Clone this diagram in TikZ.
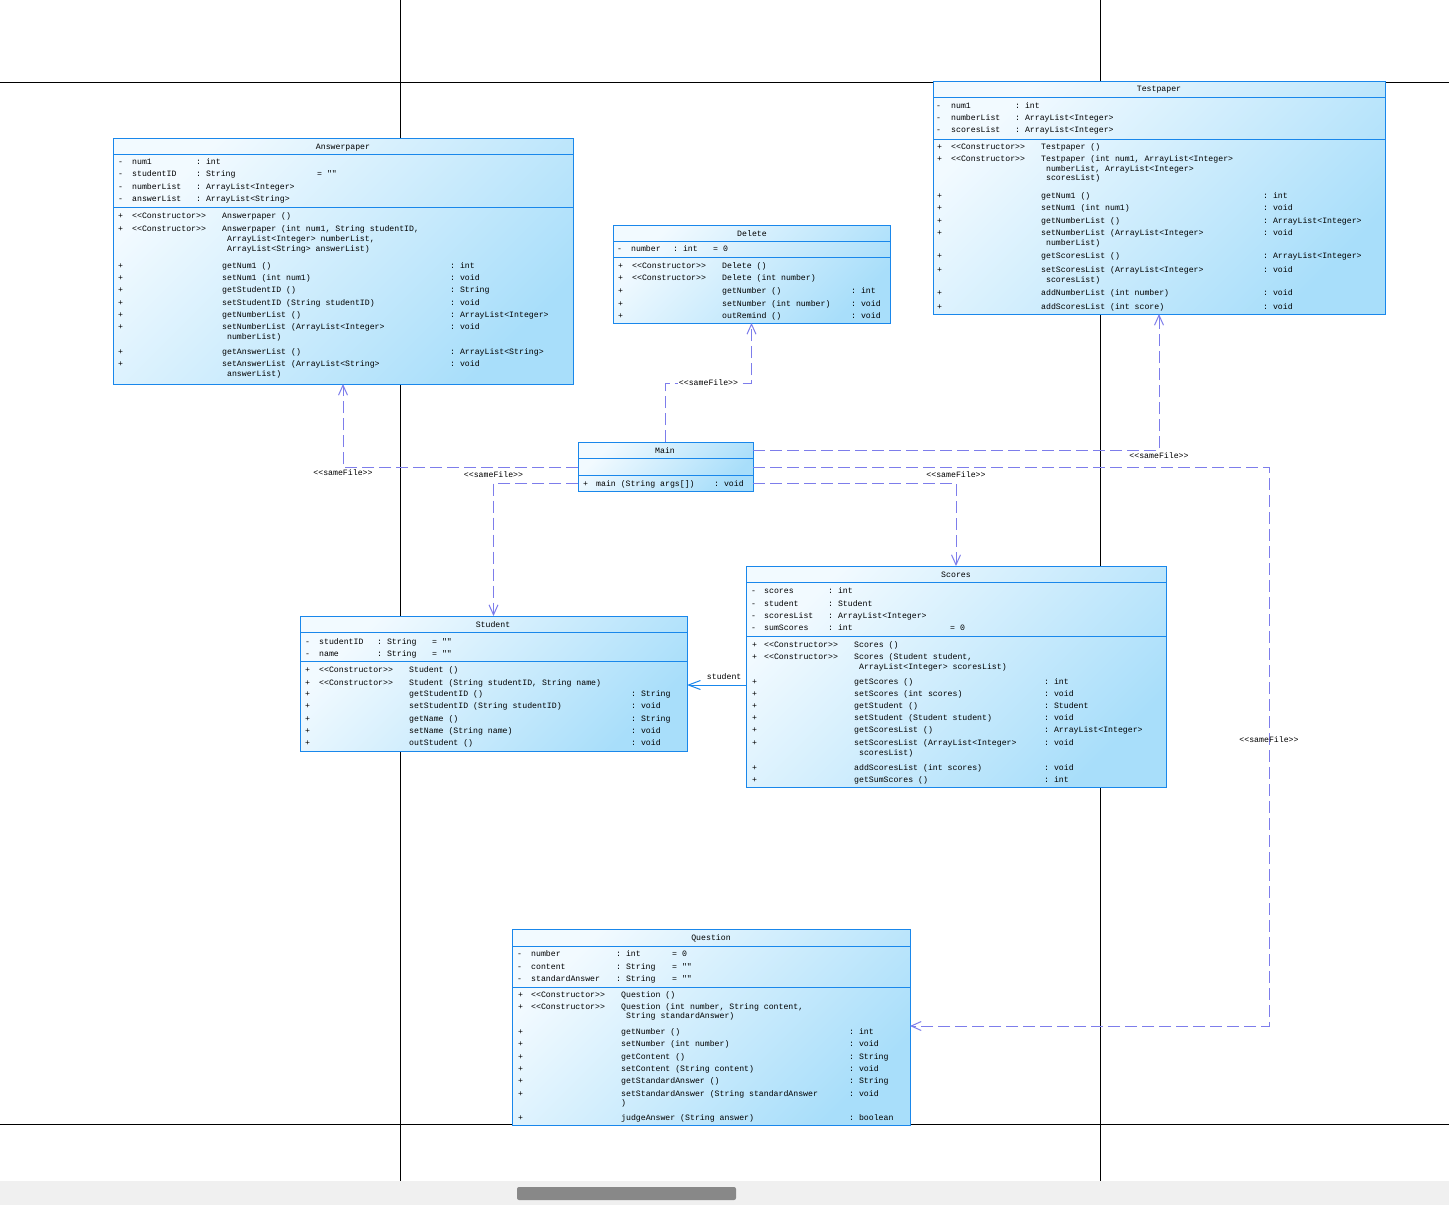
\documentclass[tikz,border=0pt]{standalone}
\usepackage{fontspec}
\setmonofont{Liberation Mono}
\usetikzlibrary{arrows.meta,calc}
\definecolor{umlblue}{RGB}{25,135,235}
\definecolor{umldep}{RGB}{125,125,235}
\definecolor{boxlight}{RGB}{242,250,255}
\definecolor{boxdark}{RGB}{168,222,250}
\definecolor{barbg}{RGB}{240,240,240}
\definecolor{barthumb}{RGB}{136,136,136}
\newcommand{\stereo}[1]{<{}<#1>{}>}

\begin{document}
\begin{tikzpicture}[x=1pt, y=-1pt,
    cls/.style={rectangle, draw=umlblue, line width=1pt, inner sep=0pt, outer sep=0pt,
                anchor=north west, top color=boxlight, bottom color=boxdark, shading angle=45},
    sep/.style={draw=umlblue, line width=1pt},
    txt/.style={anchor=base west, inner sep=0pt, yshift=-3pt,
                font=\ttfamily\fontsize{8.2pt}{10pt}\selectfont},
    ttl/.style={txt, anchor=base},
    lbl/.style={inner sep=1pt, text=black, font=\ttfamily\fontsize{8.2pt}{10pt}\selectfont},
    dep/.style={umldep, line width=1pt, dash pattern=on 12pt off 5pt,
                -{Straight Barb[length=10pt, width=9pt]}},
    assoc/.style={umlblue, line width=1pt, -{Straight Barb[length=12pt, width=9pt]}},
    grid/.style={black, line width=1pt}
  ]
  \useasboundingbox (0,0) rectangle (1449,1205);
  \fill[white] (0,0) rectangle (1449,1205);

  % page grid
  \draw[grid] (0,82) -- (1449,82);
  \draw[grid] (0,1124) -- (1449,1124);
  \draw[grid] (400,0) -- (400,1181);
  \draw[grid] (1100,0) -- (1100,1181);

  % Answerpaper
  \node[cls, minimum width=460pt, minimum height=246pt] (answer) at (113,138) {};
  \node[ttl] (answer-t) at (343,146) {Answerpaper};
  \draw[sep] (answer.west |- 0,154) -- (answer.east |- 0,154)
             (answer.west |- 0,207) -- (answer.east |- 0,207);
  \foreach \y/\nm/\typ/\val [count=\i] in {
      161/num1/{: int}/{},
      173/studentID/{: String}/{= ""},
      186/numberList/{: ArrayList<Integer>}/{},
      198/answerList/{: ArrayList<String>}/{}} {
    \node[txt] (answer-a\i) at (118,\y) {-};
    \node[txt] (answer-a\i-n) at (132,\y) {\nm};
    \node[txt] (answer-a\i-t) at (196,\y) {\typ};
    \node[txt] (answer-a\i-v) at (317,\y) {\val};
  }
  \foreach \y/\vis/\ster/\nm/\ret [count=\i] in {
      215/+/\stereo{Constructor}/{Answerpaper ()}/{},
      228/+/\stereo{Constructor}/{Answerpaper (int num1, String studentID,}/{},
      238/{}/{}/{\ ArrayList<Integer> numberList,}/{},
      248/{}/{}/{\ ArrayList<String> answerList)}/{},
      265/+/{}/{getNum1 ()}/{: int},
      277/+/{}/{setNum1 (int num1)}/{: void},
      289/+/{}/{getStudentID ()}/{: String},
      302/+/{}/{setStudentID (String studentID)}/{: void},
      314/+/{}/{getNumberList ()}/{: ArrayList<Integer>},
      326/+/{}/{setNumberList (ArrayList<Integer>}/{: void},
      336/{}/{}/{\ numberList)}/{},
      351/+/{}/{getAnswerList ()}/{: ArrayList<String>},
      363/+/{}/{setAnswerList (ArrayList<String>}/{: void},
      373/{}/{}/{\ answerList)}/{}} {
    \node[txt] (answer-m\i) at (118,\y) {\vis};
    \node[txt] (answer-m\i-s) at (132,\y) {\ster};
    \node[txt] (answer-m\i-n) at (222,\y) {\nm};
    \node[txt] (answer-m\i-r) at (450,\y) {\ret};
  }

  % Testpaper
  \node[cls, minimum width=452pt, minimum height=233pt] (test) at (933,81) {};
  \node[ttl] (test-t) at (1159,88) {Testpaper};
  \draw[sep] (test.west |- 0,97) -- (test.east |- 0,97)
             (test.west |- 0,139) -- (test.east |- 0,139);
  \foreach \y/\nm/\typ [count=\i] in {
      105/num1/{: int},
      117/numberList/{: ArrayList<Integer>},
      129/scoresList/{: ArrayList<Integer>}} {
    \node[txt] (test-a\i) at (936,\y) {-};
    \node[txt] (test-a\i-n) at (951,\y) {\nm};
    \node[txt] (test-a\i-t) at (1015,\y) {\typ};
  }
  \foreach \y/\vis/\ster/\nm/\ret [count=\i] in {
      146/+/\stereo{Constructor}/{Testpaper ()}/{},
      158/+/\stereo{Constructor}/{Testpaper (int num1, ArrayList<Integer>}/{},
      168/{}/{}/{\ numberList, ArrayList<Integer>}/{},
      177/{}/{}/{\ scoresList)}/{},
      195/+/{}/{getNum1 ()}/{: int},
      207/+/{}/{setNum1 (int num1)}/{: void},
      220/+/{}/{getNumberList ()}/{: ArrayList<Integer>},
      232/+/{}/{setNumberList (ArrayList<Integer>}/{: void},
      242/{}/{}/{\ numberList)}/{},
      255/+/{}/{getScoresList ()}/{: ArrayList<Integer>},
      269/+/{}/{setScoresList (ArrayList<Integer>}/{: void},
      279/{}/{}/{\ scoresList)}/{},
      292/+/{}/{addNumberList (int number)}/{: void},
      306/+/{}/{addScoresList (int score)}/{: void}} {
    \node[txt] (test-m\i) at (937,\y) {\vis};
    \node[txt] (test-m\i-s) at (951,\y) {\ster};
    \node[txt] (test-m\i-n) at (1041,\y) {\nm};
    \node[txt] (test-m\i-r) at (1263,\y) {\ret};
  }

  % Delete
  \node[cls, minimum width=277pt, minimum height=98pt] (delete) at (613,225) {};
  \node[ttl] (delete-t) at (752,233) {Delete};
  \draw[sep] (delete.west |- 0,241) -- (delete.east |- 0,241)
             (delete.west |- 0,257) -- (delete.east |- 0,257);
  \node[txt] (delete-a1) at (617,248) {-};
  \node[txt] (delete-a1-n) at (631,248) {number};
  \node[txt] (delete-a1-t) at (673,248) {: int};
  \node[txt] (delete-a1-v) at (713,248) {= 0};
  \foreach \y/\vis/\ster/\nm/\ret [count=\i] in {
      265/+/\stereo{Constructor}/{Delete ()}/{},
      277/+/\stereo{Constructor}/{Delete (int number)}/{},
      290/+/{}/{getNumber ()}/{: int},
      303/+/{}/{setNumber (int number)}/{: void},
      315/+/{}/{outRemind ()}/{: void}} {
    \node[txt] (delete-m\i) at (618,\y) {\vis};
    \node[txt] (delete-m\i-s) at (632,\y) {\ster};
    \node[txt] (delete-m\i-n) at (722,\y) {\nm};
    \node[txt] (delete-m\i-r) at (851,\y) {\ret};
  }

  % Main
  \node[cls, minimum width=175pt, minimum height=49pt] (main) at (578,442) {};
  \node[ttl] (main-t) at (665,450) {Main};
  \draw[sep] (main.west |- 0,458) -- (main.east |- 0,458)
             (main.west |- 0,475) -- (main.east |- 0,475);
  \node[txt] (main-m1) at (583,483) {+};
  \node[txt] (main-m1-n) at (596,483) {main (String args[])};
  \node[txt] (main-m1-r) at (714,483) {: void};

  % Student
  \node[cls, minimum width=387pt, minimum height=135pt] (student) at (300,616) {};
  \node[ttl] (student-t) at (493,624) {Student};
  \draw[sep] (student.west |- 0,632) -- (student.east |- 0,632)
             (student.west |- 0,661) -- (student.east |- 0,661);
  \foreach \y/\nm [count=\i] in {641/studentID, 653/name} {
    \node[txt] (student-a\i) at (305,\y) {-};
    \node[txt] (student-a\i-n) at (319,\y) {\nm};
    \node[txt] (student-a\i-t) at (377,\y) {: String};
    \node[txt] (student-a\i-v) at (432,\y) {= ""};
  }
  \foreach \y/\vis/\ster/\nm/\ret [count=\i] in {
      669/+/\stereo{Constructor}/{Student ()}/{},
      682/+/\stereo{Constructor}/{Student (String studentID, String name)}/{},
      693/+/{}/{getStudentID ()}/{: String},
      705/+/{}/{setStudentID (String studentID)}/{: void},
      718/+/{}/{getName ()}/{: String},
      730/+/{}/{setName (String name)}/{: void},
      742/+/{}/{outStudent ()}/{: void}} {
    \node[txt] (student-m\i) at (305,\y) {\vis};
    \node[txt] (student-m\i-s) at (319,\y) {\ster};
    \node[txt] (student-m\i-n) at (409,\y) {\nm};
    \node[txt] (student-m\i-r) at (631,\y) {\ret};
  }

  % Scores
  \node[cls, minimum width=420pt, minimum height=221pt] (scores) at (746,566) {};
  \node[ttl] (scores-t) at (956,574) {Scores};
  \draw[sep] (scores.west |- 0,582) -- (scores.east |- 0,582)
             (scores.west |- 0,636) -- (scores.east |- 0,636);
  \foreach \y/\nm/\typ/\val [count=\i] in {
      590/scores/{: int}/{},
      603/student/{: Student}/{},
      615/scoresList/{: ArrayList<Integer>}/{},
      627/sumScores/{: int}/{= 0}} {
    \node[txt] (scores-a\i) at (751,\y) {-};
    \node[txt] (scores-a\i-n) at (764,\y) {\nm};
    \node[txt] (scores-a\i-t) at (828,\y) {\typ};
    \node[txt] (scores-a\i-v) at (950,\y) {\val};
  }
  \foreach \y/\vis/\ster/\nm/\ret [count=\i] in {
      644/+/\stereo{Constructor}/{Scores ()}/{},
      656/+/\stereo{Constructor}/{Scores (Student student,}/{},
      666/{}/{}/{\ ArrayList<Integer> scoresList)}/{},
      681/+/{}/{getScores ()}/{: int},
      693/+/{}/{setScores (int scores)}/{: void},
      705/+/{}/{getStudent ()}/{: Student},
      717/+/{}/{setStudent (Student student)}/{: void},
      729/+/{}/{getScoresList ()}/{: ArrayList<Integer>},
      742/+/{}/{setScoresList (ArrayList<Integer>}/{: void},
      752/{}/{}/{\ scoresList)}/{},
      767/+/{}/{addScoresList (int scores)}/{: void},
      779/+/{}/{getSumScores ()}/{: int}} {
    \node[txt] (scores-m\i) at (752,\y) {\vis};
    \node[txt] (scores-m\i-s) at (764,\y) {\ster};
    \node[txt] (scores-m\i-n) at (854,\y) {\nm};
    \node[txt] (scores-m\i-r) at (1044,\y) {\ret};
  }

  % Question
  \node[cls, minimum width=398pt, minimum height=196pt] (question) at (512,929) {};
  \node[ttl] (question-t) at (711,937) {Question};
  \draw[sep] (question.west |- 0,946) -- (question.east |- 0,946)
             (question.west |- 0,987) -- (question.east |- 0,987);
  \foreach \y/\nm/\typ/\val [count=\i] in {
      953/number/{: int}/{= 0},
      966/content/{: String}/{= ""},
      978/standardAnswer/{: String}/{= ""}} {
    \node[txt] (question-a\i) at (517,\y) {-};
    \node[txt] (question-a\i-n) at (531,\y) {\nm};
    \node[txt] (question-a\i-t) at (616,\y) {\typ};
    \node[txt] (question-a\i-v) at (672,\y) {\val};
  }
  \foreach \y/\vis/\ster/\nm/\ret [count=\i] in {
      994/+/\stereo{Constructor}/{Question ()}/{},
      1006/+/\stereo{Constructor}/{Question (int number, String content,}/{},
      1015/{}/{}/{\ String standardAnswer)}/{},
      1031/+/{}/{getNumber ()}/{: int},
      1043/+/{}/{setNumber (int number)}/{: void},
      1056/+/{}/{getContent ()}/{: String},
      1068/+/{}/{setContent (String content)}/{: void},
      1080/+/{}/{getStandardAnswer ()}/{: String},
      1093/+/{}/{setStandardAnswer (String standardAnswer}/{: void},
      1102/{}/{}/{)}/{},
      1117/+/{}/{judgeAnswer (String answer)}/{: boolean}} {
    \node[txt] (question-m\i) at (518,\y) {\vis};
    \node[txt] (question-m\i-s) at (531,\y) {\ster};
    \node[txt] (question-m\i-n) at (621,\y) {\nm};
    \node[txt] (question-m\i-r) at (849,\y) {\ret};
  }

  % dependencies from Main
  \draw[dep] (main.north) |- (delete.south |- 0,383)
    node[lbl, fill=white, pos=0.75] (lbl-delete) {\stereo{sameFile}} -- (delete.south);
  \draw[dep] (main.west |- 0,467) -| (answer.south)
    node[lbl, pos=0.5, yshift=-6pt] (lbl-answer) {\stereo{sameFile}};
  \draw[dep] (main.west |- 0,483) -| (student.north)
    node[lbl, pos=0.5, yshift=8pt] (lbl-student) {\stereo{sameFile}};
  \draw[dep] (main.east |- 0,450) -| (test.south)
    node[lbl, pos=0.5, yshift=-6pt] (lbl-test) {\stereo{sameFile}};
  \draw[dep] (main.east |- 0,483) -| (scores.north)
    node[lbl, pos=0.5, yshift=8pt] (lbl-scores) {\stereo{sameFile}};
  \coordinate (qbend) at (1269,1026);
  \draw[dep] (main.east |- 0,467) -| (qbend) -- (question.east |- qbend);
  \node[lbl] (lbl-question) at (1269,740) {\stereo{sameFile}};

  % association
  \draw[assoc] (scores.west |- 0,685) -- (student.east |- 0,685)
    node[lbl, pos=0.37, yshift=8pt] (lbl-stu) {student};

  % scroll bar
  \fill[barbg] (0,1181) rectangle (1449,1205);
  \fill[barthumb, rounded corners=2pt] (517,1187) rectangle (736,1200);
\end{tikzpicture}
\end{document}
